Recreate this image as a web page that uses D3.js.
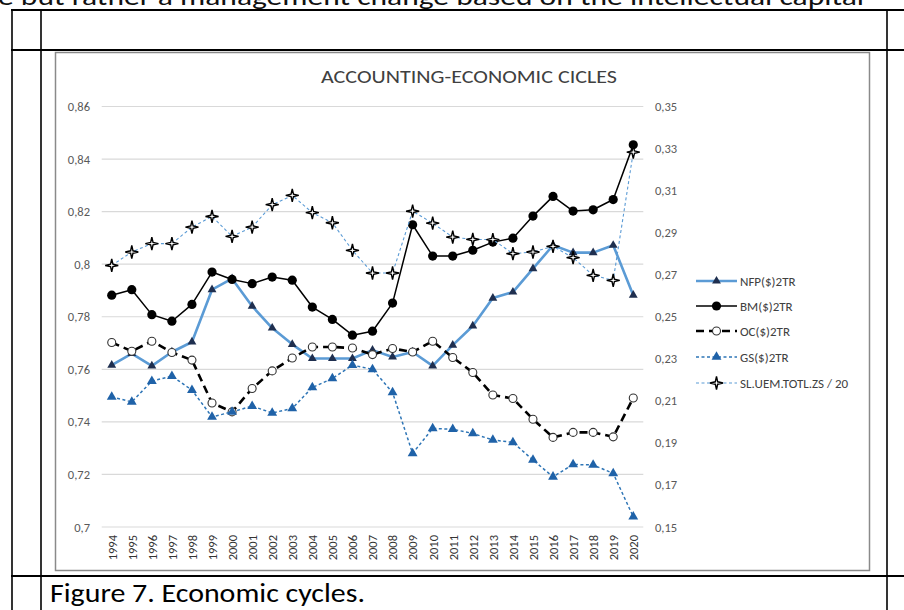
<!DOCTYPE html>
<html>
<head>
<meta charset="utf-8">
<script src="https://cdn.jsdelivr.net/npm/d3@7/dist/d3.min.js"></script>
<style>
  html, body { margin: 0; padding: 0; background: #fff; }
  svg { display: block; }
  text { font-family: Carlito, Lato, "Open Sans", sans-serif; }
</style>
</head>
<body>
<svg id="chart" width="904" height="610"></svg>
<script>
// Years on the category axis
const years = ["1994","1995","1996","1997","1998","1999","2000","2001","2002","2003","2004","2005","2006",
  "2007","2008","2009","2010","2011","2012","2013","2014","2015","2016","2017","2018","2019","2020"];

// Series on the primary (left) axis
const nfp = [0.7616,0.7660,0.7613,0.7666,0.7704,0.7903,0.7945,0.7840,0.7757,0.7695,0.7641,0.7641,0.7641,
  0.7673,0.7647,0.7666,0.7613,0.7692,0.7765,0.7871,0.7894,0.7983,0.8072,0.8044,0.8044,0.8072,0.7882];
const bm = [0.7882,0.7903,0.7808,0.7783,0.7847,0.7970,0.7942,0.7926,0.7951,0.7939,0.7837,0.7790,0.7730,
  0.7745,0.7852,0.8150,0.8031,0.8031,0.8053,0.8084,0.8099,0.8183,0.8258,0.8202,0.8207,0.8246,0.8454];
const oc = [0.7702,0.7669,0.7707,0.7664,0.7635,0.7472,0.7438,0.7527,0.7594,0.7643,0.7685,0.7685,0.7681,
  0.7656,0.7679,0.7666,0.7707,0.7645,0.7588,0.7502,0.7489,0.7410,0.7341,0.7360,0.7360,0.7343,0.7491];
const gs = [0.7495,0.7476,0.7555,0.7574,0.7521,0.7419,0.7438,0.7460,0.7434,0.7451,0.7531,0.7565,0.7616,
  0.7600,0.7512,0.7280,0.7375,0.7372,0.7356,0.7331,0.7322,0.7255,0.7191,0.7238,0.7236,0.7204,0.7039];

// Series on the secondary (right) axis: unemployment rate divided by 20
const sl = [0.2744,0.2808,0.2848,0.2848,0.2926,0.2977,0.2882,0.2926,0.3033,0.3077,0.2995,0.2947,0.2816,
  0.2708,0.2708,0.3002,0.2945,0.2879,0.2868,0.2867,0.2800,0.2808,0.2835,0.2781,0.2697,0.2673,0.3283];

// Axis ticks
const leftTicks = [0.70,0.72,0.74,0.76,0.78,0.80,0.82,0.84,0.86];
const rightTicks = [0.15,0.17,0.19,0.21,0.23,0.25,0.27,0.29,0.31,0.33,0.35];

const seriesNames = ["NFP($)2TR","BM($)2TR","OC($)2TR","GS($)2TR","SL.UEM.TOTL.ZS / 20"];

const svg = d3.select("#chart");
const locale = d3.formatLocale({decimal: ",", thousands: ".", grouping: [3], currency: ["", ""]});
const fmtLeft = locale.format("~g");
const fmtRight = locale.format(".2f");

// ---- surrounding document: running text, table rules, caption ----
svg.append("text")
  .attr("x", -2).attr("y", 5)
  .attr("font-size", 24).attr("fill", "#111")
  .attr("textLength", 866).attr("lengthAdjust", "spacingAndGlyphs")
  .text("e but rather a management change based on the intellectual capital");

const rules = svg.append("g").attr("stroke", "#000");
[[10, 2.2], [50, 2.2], [576, 2.2]].forEach(([y, w]) =>
  rules.append("line").attr("x1", 11).attr("x2", 904).attr("y1", y).attr("y2", y).attr("stroke-width", w));
[12, 41, 887].forEach(x =>
  rules.append("line").attr("x1", x).attr("x2", x).attr("y1", 9).attr("y2", 610).attr("stroke-width", 1.6));

svg.append("text")
  .attr("x", 50).attr("y", 602)
  .attr("font-size", 26).attr("fill", "#000")
  .attr("textLength", 315).attr("lengthAdjust", "spacingAndGlyphs")
  .text("Figure 7. Economic cycles.");

// ---- chart frame ----
svg.append("rect")
  .attr("x", 55.5).attr("y", 52.5).attr("width", 814).attr("height", 518)
  .attr("fill", "#fff").attr("stroke", "#8a8a8a").attr("stroke-width", 1.5);

svg.append("text")
  .attr("x", 469).attr("y", 83)
  .attr("text-anchor", "middle")
  .attr("font-size", 17.5).attr("fill", "#404040")
  .attr("textLength", 296).attr("lengthAdjust", "spacingAndGlyphs")
  .text("ACCOUNTING-ECONOMIC CICLES");

// ---- scales ----
const x = d3.scalePoint().domain(years).range([101.7, 643.3]).padding(0.5);
const yL = d3.scaleLinear().domain([0.70, 0.86]).range([527, 106.5]);
const yR = d3.scaleLinear().domain([0.15, 0.35]).range([527, 106.5]);

// gridlines
svg.append("g").selectAll("line").data(leftTicks).join("line")
  .attr("x1", 101.7).attr("x2", 643.3)
  .attr("y1", d => yL(d)).attr("y2", d => yL(d))
  .attr("stroke", "#d9d9d9").attr("stroke-width", 1.2);

// left axis labels
const axL = svg.append("g").attr("transform", "translate(96,0)")
  .call(d3.axisLeft(yL).tickValues(leftTicks).tickFormat(fmtLeft).tickSize(0).tickPadding(6));
axL.select(".domain").remove();
axL.selectAll("text").attr("font-size", 12.5).attr("fill", "#595959")
  .style("font-family", "Carlito, Lato, sans-serif");

// right axis labels
const axR = svg.append("g").attr("transform", "translate(649,0)")
  .call(d3.axisRight(yR).tickValues(rightTicks).tickFormat(fmtRight).tickSize(0).tickPadding(6));
axR.select(".domain").remove();
axR.selectAll("text").attr("font-size", 12.5).attr("fill", "#595959")
  .style("font-family", "Carlito, Lato, sans-serif");

// category labels, rotated
const axB = svg.append("g").attr("transform", "translate(0,531)")
  .call(d3.axisBottom(x).tickSize(0).tickPadding(0));
axB.select(".domain").remove();
axB.selectAll("text")
  .attr("font-size", 12.5).attr("fill", "#333")
  .style("font-family", "Carlito, Lato, sans-serif")
  .attr("text-anchor", "end")
  .attr("transform", "rotate(-90)")
  .attr("x", -4).attr("y", 0).attr("dy", "0.35em");

// ---- markers ----
const starPath = "M0,-6.5 L1.2,-1.2 L6.5,0 L1.2,1.2 L0,6.5 L-1.2,1.2 L-6.5,0 L-1.2,-1.2 Z";
const triSmall = d3.symbol(d3.symbolTriangle, 34)();
const triGS = d3.symbol(d3.symbolTriangle, 42)();

const specs = [
  {name: seriesNames[0], values: nfp, y: yL, stroke: "#5b9bd5", width: 2.6, dash: null,
   marker: g => g.append("path").attr("d", triSmall).attr("fill", "#1f2f4f")},
  {name: seriesNames[1], values: bm, y: yL, stroke: "#000", width: 1.5, dash: null,
   marker: g => g.append("circle").attr("r", 4.6).attr("fill", "#000")},
  {name: seriesNames[2], values: oc, y: yL, stroke: "#000", width: 2.6, dash: "8,5",
   marker: g => g.append("circle").attr("r", 4).attr("fill", "#fff").attr("stroke", "#333").attr("stroke-width", 1.1)},
  {name: seriesNames[3], values: gs, y: yL, stroke: "#2e75b6", width: 1.5, dash: "3,2.5",
   marker: g => g.append("path").attr("d", triGS).attr("fill", "#1f62a8")},
  {name: seriesNames[4], values: sl, y: yR, stroke: "#5b9bd5", width: 1.1, dash: "3,2.5",
   marker: g => g.append("path").attr("d", starPath).attr("fill", "#fff").attr("stroke", "#000").attr("stroke-width", 1.4)}
];

specs.forEach(s => {
  const line = d3.line().x((d, i) => x(years[i])).y(d => s.y(d));
  svg.append("path").datum(s.values)
    .attr("d", line).attr("fill", "none")
    .attr("stroke", s.stroke).attr("stroke-width", s.width)
    .attr("stroke-dasharray", s.dash)
    .attr("stroke-linejoin", "round");
  s.values.forEach((v, i) => {
    const g = svg.append("g").attr("transform", `translate(${x(years[i])},${s.y(v)})`);
    s.marker(g);
  });
});

// ---- legend ----
const legY = [281, 306, 331, 357, 383];
specs.forEach((s, i) => {
  const g = svg.append("g").attr("transform", `translate(0,${legY[i]})`);
  g.append("line").attr("x1", 696).attr("x2", 737).attr("y1", 0).attr("y2", 0)
    .attr("stroke", s.stroke).attr("stroke-width", s.width).attr("stroke-dasharray", s.dash);
  const m = g.append("g").attr("transform", "translate(716.5,0)");
  s.marker(m);
  g.append("text").attr("x", 740).attr("y", 0).attr("dy", "0.35em")
    .attr("font-size", 13).attr("fill", "#404040").text(s.name);
});
</script>
</body>
</html>
